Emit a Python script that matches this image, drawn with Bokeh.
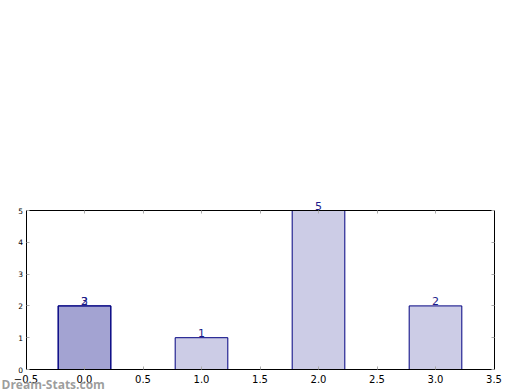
from bokeh.plotting import figure
from bokeh.models import LinearAxis, Label, FixedTicker, ColumnDataSource, Range1d
from bokeh.core.properties import value
from bokeh.embed import file_html
from bokeh.resources import INLINE

# data
positions = [0, 1, 2, 3, 0]
heights = [2, 1, 5, 2, 2]
labels = ["2", "1", "5", "2", "3"]
x_ticks = [-0.5, 0.0, 0.5, 1.0, 1.5, 2.0, 2.5, 3.0, 3.5]
x_tick_labels = ["\u22120.5", "0.0", "0.5", "1.0", "1.5", "2.0", "2.5", "3.0", "3.5"]
y_ticks = [0, 1, 2, 3, 4, 5]

# layout (pixel box of the axes inside the 520x390 canvas)
W, H = 520, 390
box_left, box_right, box_top, box_bottom = 25.5, 493.5, 210, 369
x0, x1 = x_ticks[0], x_ticks[-1]
y0, y1 = y_ticks[0], y_ticks[-1]
kx = (box_right - box_left) / (x1 - x0)
ky = (box_bottom - box_top) / (y1 - y0)
xr = Range1d(x0 - box_left / kx, x1 + (W - box_right) / kx)
yr = Range1d(y0 - (H - box_bottom) / ky, y1 + box_top / ky)

src = ColumnDataSource(dict(x=positions, top=heights, lab=labels))

p = figure(width=W, height=H, output_backend="svg", toolbar_location=None,
           x_range=xr, y_range=yr, x_axis_location=None, y_axis_location=None,
           min_border=0)
p.grid.visible = False
p.outline_line_color = None
p.background_fill_color = "white"
p.border_fill_color = "white"

p.vbar(x="x", top="top", width=0.45, bottom=0, source=src,
       fill_color="navy", fill_alpha=0.2, line_color="navy", line_width=1)
p.text(x="x", y="top", text="lab", source=src, text_align="center", text_baseline="bottom",
       text_font=value("DejaVu Sans"), text_font_size="11px", text_color="#1c1c8a", y_offset=-1)

def style(ax, show, size, bounds):
    ax.axis_line_color = "black"
    ax.axis_line_width = 1
    ax.bounds = bounds
    ax.major_tick_in = 3
    ax.major_tick_out = 0
    ax.minor_tick_line_color = None
    ax.major_tick_line_color = "#aaaaaa"
    ax.major_label_text_font = "DejaVu Sans"
    ax.major_label_text_font_size = size
    ax.major_label_text_color = "black"
    if not show:
        ax.major_label_overrides = {t: "" for t in ax.ticker.ticks}

bx = LinearAxis(ticker=FixedTicker(ticks=x_ticks), fixed_location=y0)
style(bx, True, "10px", (x0, x1)); bx.major_label_standoff = 5
bx.major_label_overrides = {t: s for t, s in zip(x_ticks, x_tick_labels)}
p.add_layout(bx, "below")
tx = LinearAxis(ticker=FixedTicker(ticks=x_ticks), fixed_location=y1)
style(tx, False, "10px", (x0, x1))
p.add_layout(tx, "above")
ly = LinearAxis(ticker=FixedTicker(ticks=y_ticks), fixed_location=x0)
style(ly, True, "7.5px", (y0, y1)); ly.major_label_standoff = 3
p.add_layout(ly, "left")
ry = LinearAxis(ticker=FixedTicker(ticks=y_ticks), fixed_location=x1)
style(ry, False, "7.5px", (y0, y1))
p.add_layout(ry, "right")

wm = Label(x=1, y=6, x_units="screen", y_units="screen", text="Dream-Stats.com",
           text_font="Open Sans", text_font_style="bold", text_font_size="12px",
           text_color="#8c8c8c", text_alpha=0.85, text_baseline="alphabetic")
p.add_layout(wm)

open("out.html", "w").write(file_html(p, INLINE))
